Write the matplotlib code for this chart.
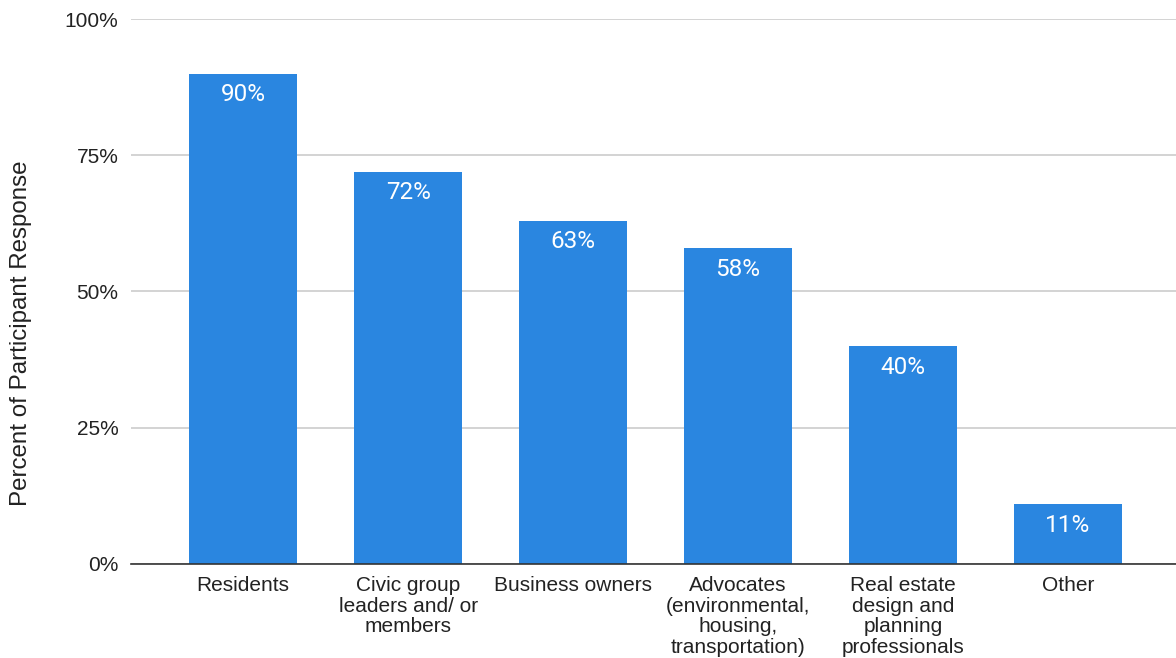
import matplotlib.pyplot as plt
import matplotlib

matplotlib.rcParams['font.family'] = ['Liberation Sans', 'DejaVu Sans']

categories = ["Residents", "Civic group\nleaders and/ or\nmembers", "Business owners",
              "Advocates\n(environmental,\nhousing,\ntransportation)",
              "Real estate\ndesign and\nplanning\nprofessionals", "Other"]
values = [90, 72, 63, 58, 40, 11]
yticks = [0, 25, 50, 75, 100]

fig = plt.figure(figsize=(11.76, 6.58), dpi=100)
ax = fig.add_axes([0.1114, 0.1429, 0.8886, 0.8282])

x = range(len(categories))
bars = ax.bar(x, values, width=0.655, color='#2a86e0', zorder=3)

for xi, v in zip(x, values):
    ax.annotate(f"{v}%", (xi, v), xytext=(0, -7), textcoords='offset points',
                ha='center', va='top', color='white', fontsize=17.5, family='Roboto')

ax.set_xlim(-0.68, 5.655)
ax.set_ylim(0, 100)
ax.set_yticks(yticks)
ax.set_yticklabels([f"{t}%" for t in yticks])
ax.set_xticks(list(x))
ax.set_xticklabels(categories, linespacing=1.12)
ax.tick_params(axis='both', length=0, colors='#222222', labelsize=15)
ax.tick_params(axis='x', pad=8.5)
ax.tick_params(axis='y', pad=9)
ax.grid(axis='y', color='#cccccc', linewidth=1.2, zorder=0)
for s in ['top', 'right', 'left']:
    ax.spines[s].set_visible(False)
ax.spines['bottom'].set_color('#333333')
ax.spines['bottom'].set_linewidth(1.2)
ax.spines['bottom'].set_zorder(4)
fig.text(0.018, 0.494, "Percent of Participant Response", fontsize=17.4, color='#222222',
         rotation=90, ha='center', va='center')

fig.savefig("out.png", dpi=100)
